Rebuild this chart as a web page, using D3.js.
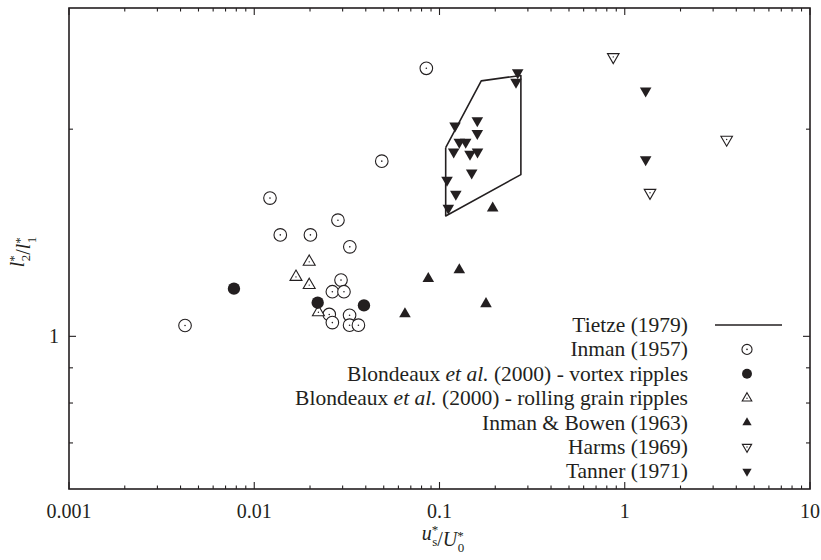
<!DOCTYPE html>
<html>
<head>
<meta charset="utf-8">
<script src="https://cdn.jsdelivr.net/npm/d3@7"></script>
<style>
  html, body { margin: 0; padding: 0; background: #fff; }
</style>
</head>
<body>
<div id="chart"></div>
<script>
// ---- data ----
const tietze1979 = [
  [0.108, 1.880], [0.168, 2.351], [0.275, 2.394], [0.275, 1.718], [0.108, 1.496], [0.108, 1.880]
];
const inman1957 = [
  [0.00423, 1.037], [0.01216, 1.588], [0.01382, 1.404], [0.0201, 1.404], [0.0283, 1.475],
  [0.0328, 1.349], [0.0294, 1.207], [0.0264, 1.161], [0.0305, 1.161], [0.0254, 1.076],
  [0.0264, 1.047], [0.0327, 1.073], [0.0327, 1.038], [0.0365, 1.038], [0.0488, 1.797],
  [0.0849, 2.452]
];
const blondeauxVortex = [[0.00777, 1.173], [0.0220, 1.119], [0.0391, 1.109]];
const blondeauxRolling = [[0.0198, 1.283], [0.0168, 1.220], [0.0198, 1.187], [0.0222, 1.084]];
const inmanBowen1963 = [[0.1937, 1.536], [0.1279, 1.249], [0.0870, 1.213], [0.1782, 1.115], [0.0651, 1.078]];
const harms1969 = [[0.867, 2.547], [3.55, 1.932], [1.369, 1.617]];
const tanner1971 = [
  [1.297, 2.274], [1.297, 1.806], [0.2643, 2.417], [0.2588, 2.341], [0.160, 2.059],
  [0.1213, 2.022], [0.160, 1.972], [0.1279, 1.915], [0.1385, 1.915], [0.1193, 1.854],
  [0.1461, 1.840], [0.1604, 1.854], [0.1492, 1.728], [0.1098, 1.687], [0.1225, 1.609],
  [0.1116, 1.536]
];
const legendLabels = [
  ['Tietze (1979)'],
  ['Inman (1957)'],
  ['Blondeaux ', 'et al.', ' (2000) - vortex ripples'],
  ['Blondeaux ', 'et al.', ' (2000) - rolling grain ripples'],
  ['Inman & Bowen (1963)'],
  ['Harms (1969)'],
  ['Tanner (1971)']
];
const xTickValues = [0.001, 0.01, 0.1, 1, 10];
const xTickLabels = ['0.001', '0.01', '0.1', '1', '10'];
const yTickValues = [1];
const yTickLabels = ['1'];

// ---- layout ----
const width = 821, height = 560;
const margin = { top: 8, right: 11, bottom: 71, left: 69 };
const ink = '#231f20';
const serif = '"Liberation Serif"';

const svg = d3.select('#chart').append('svg')
  .attr('width', width)
  .attr('height', height)
  .style('font-family', serif);

// every text gets the serif face set on itself
const addText = (parent) => parent.append('text').style('font-family', serif).attr('fill', ink);

const x = d3.scaleLog().domain([0.001, 10]).range([margin.left, width - margin.right]);
const y = d3.scaleLog().domain([0.6, 3]).range([height - margin.bottom, margin.top]);

const x0 = x.range()[0], x1 = x.range()[1];
const y0 = y.range()[0], y1 = y.range()[1];

// ticks: decades long, others short, on all four sides pointing inward
const xMinor = [];
for (let e = -3; e < 1; e++) {
  for (let m = 2; m <= 9; m++) xMinor.push(m * Math.pow(10, e));
}
const yMinor = [0.7, 0.8, 0.9, 2];

const ticks = svg.append('g').attr('stroke', ink).attr('stroke-width', 1.1);
function xTick(v, len) {
  ticks.append('line').attr('x1', x(v)).attr('x2', x(v)).attr('y1', y0).attr('y2', y0 - len);
  ticks.append('line').attr('x1', x(v)).attr('x2', x(v)).attr('y1', y1).attr('y2', y1 + len);
}
function yTick(v, len) {
  ticks.append('line').attr('y1', y(v)).attr('y2', y(v)).attr('x1', x0).attr('x2', x0 + len);
  ticks.append('line').attr('y1', y(v)).attr('y2', y(v)).attr('x1', x1).attr('x2', x1 - len);
}
xTickValues.forEach(v => xTick(v, 7));
xMinor.forEach(v => xTick(v, 3.5));
yTickValues.forEach(v => yTick(v, 7));
yMinor.forEach(v => yTick(v, 4));

// frame
svg.append('rect')
  .attr('x', x0).attr('y', y1)
  .attr('width', x1 - x0).attr('height', y0 - y1)
  .attr('fill', 'none').attr('stroke', ink).attr('stroke-width', 1.6);

// tick labels
const xLab = svg.append('g');
xTickValues.forEach((v, i) => {
  addText(xLab)
    .attr('x', x(v))
    .attr('y', 518)
    .attr('text-anchor', 'middle')
    .attr('font-size', 20)
    .text(xTickLabels[i]);
});

const yLab = svg.append('g');
yTickValues.forEach((v, i) => {
  addText(yLab)
    .attr('x', 59)
    .attr('y', y(v) + 7)
    .attr('text-anchor', 'end')
    .attr('font-size', 20)
    .text(yTickLabels[i]);
});

// axis titles: base letter with stacked superscript * and subscript
function stacked(t, base, sub) {
  t.append('tspan').attr('font-style', 'italic').text(base);
  t.append('tspan').attr('font-size', 13).attr('dy', -6).text('*');
  t.append('tspan').attr('font-size', 13).attr('dx', -6).attr('dy', 12).text(sub);
  t.append('tspan').attr('dy', -6).text('');
}
const xt = addText(svg)
  .attr('x', 443).attr('y', 540)
  .attr('text-anchor', 'middle')
  .attr('font-size', 20);
stacked(xt, 'u', 's');
xt.append('tspan').text('/');
stacked(xt, 'U', '0');

const yt = addText(svg)
  .attr('transform', 'translate(24,252) rotate(-90)')
  .attr('text-anchor', 'middle')
  .attr('font-size', 20);
stacked(yt, 'l', '2');
yt.append('tspan').text('/');
stacked(yt, 'l', '1');

// ---- marks ----
const plot = svg.append('g');

plot.append('path')
  .datum(tietze1979)
  .attr('fill', 'none')
  .attr('stroke', ink)
  .attr('stroke-width', 1.6)
  .attr('stroke-linejoin', 'round')
  .attr('d', d3.line().x(d => x(d[0])).y(d => y(d[1])));

const tri = s => d3.symbol().type(d3.symbolTriangle).size(s)();

function drawMarker(g, kind, scale) {
  const k = scale || 1;
  if (kind === 'dotCircle') {
    g.append('circle').attr('r', 6.3 * k).attr('fill', '#fff').attr('stroke', ink).attr('stroke-width', 1.1);
    g.append('circle').attr('r', 0.8).attr('fill', ink);
  } else if (kind === 'filledCircle') {
    g.append('circle').attr('r', 6.2 * k).attr('fill', ink);
  } else if (kind === 'openUp') {
    g.append('path').attr('d', tri(62 * k * k)).attr('fill', '#fff').attr('stroke', ink).attr('stroke-width', 1.1);
    g.append('circle').attr('r', 0.7).attr('fill', ink);
  } else if (kind === 'filledUp') {
    g.append('path').attr('d', tri(58 * k * k)).attr('fill', ink);
  } else if (kind === 'openDown') {
    g.append('path').attr('d', tri(58 * k * k)).attr('transform', 'rotate(180)')
      .attr('fill', '#fff').attr('stroke', ink).attr('stroke-width', 1.1);
    g.append('circle').attr('r', 0.7).attr('fill', ink);
  } else if (kind === 'filledDown') {
    g.append('path').attr('d', tri(58 * k * k)).attr('transform', 'rotate(180)').attr('fill', ink);
  }
}

const seriesList = [
  { data: inman1957, kind: 'dotCircle' },
  { data: blondeauxRolling, kind: 'openUp' },
  { data: blondeauxVortex, kind: 'filledCircle' },
  { data: inmanBowen1963, kind: 'filledUp' },
  { data: harms1969, kind: 'openDown' },
  { data: tanner1971, kind: 'filledDown' }
];

seriesList.forEach(s => {
  plot.append('g').selectAll('g')
    .data(s.data)
    .join('g')
    .attr('transform', d => `translate(${x(d[0])},${y(d[1])})`)
    .each(function () { drawMarker(d3.select(this), s.kind); });
});

// ---- legend ----
const legendKinds = ['line', 'dotCircle', 'filledCircle', 'openUp', 'filledUp', 'openDown', 'filledDown'];
const legend = svg.append('g');
legendLabels.forEach((parts, i) => {
  const cy = 325 + i * 24.4;
  const t = addText(legend)
    .attr('x', 688).attr('y', cy + 7)
    .attr('text-anchor', 'end')
    .attr('font-size', 21.5);
  parts.forEach(p => {
    const ts = t.append('tspan').text(p);
    if (p === 'et al.') ts.attr('font-style', 'italic');
  });
  if (legendKinds[i] === 'line') {
    legend.append('line')
      .attr('x1', 715).attr('x2', 782).attr('y1', cy).attr('y2', cy)
      .attr('stroke', ink).attr('stroke-width', 1.6);
  } else {
    const g = legend.append('g').attr('transform', `translate(747,${cy})`);
    drawMarker(g, legendKinds[i], 0.8);
  }
});
</script>
</body>
</html>
